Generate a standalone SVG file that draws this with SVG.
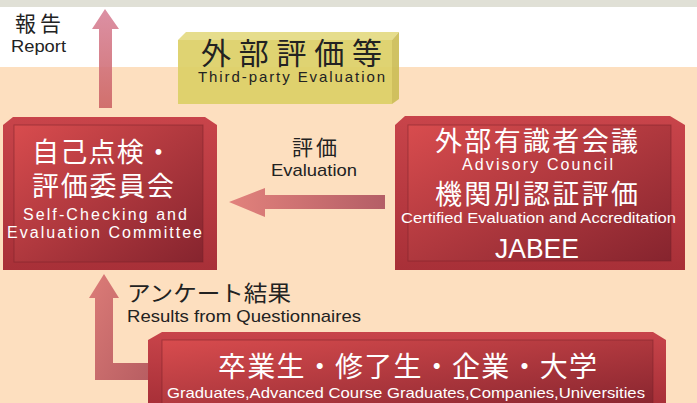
<svg xmlns="http://www.w3.org/2000/svg" width="697" height="403" viewBox="0 0 697 403">
<defs>
<linearGradient id="red" x1="0" y1="0" x2="1" y2="1">
<stop offset="0" stop-color="#d84c4e"/>
<stop offset="1" stop-color="#86242e"/>
</linearGradient>
<linearGradient id="redside" x1="0" y1="0" x2="0" y2="1">
<stop offset="0" stop-color="#c8444a"/>
<stop offset="1" stop-color="#a83038"/>
</linearGradient>
<linearGradient id="arrUp" x1="0" y1="0" x2="0" y2="1">
<stop offset="0" stop-color="#d8849a"/>
<stop offset="1" stop-color="#cc6464"/>
</linearGradient>
<linearGradient id="arrLeft" x1="0" y1="0" x2="1" y2="0">
<stop offset="0" stop-color="#e2827c"/>
<stop offset="1" stop-color="#b45e66"/>
</linearGradient>
<linearGradient id="arrL" x1="0" y1="0" x2="1" y2="1">
<stop offset="0" stop-color="#dc7c78"/>
<stop offset="1" stop-color="#b85e62"/>
</linearGradient>
<style>
.jp{font-family:"Noto Sans CJK JP","Noto Sans",sans-serif;}
.en{font-family:"Liberation Sans",Arial,sans-serif;}
.w{fill:#ffffff;}
.k{fill:#222222;}
.edge{fill:none;stroke:#7a2028;stroke-width:1;stroke-opacity:0.5;}
</style>
</defs>
<rect x="0" y="0" width="697" height="403" fill="#ffffff"/>
<rect x="0" y="0" width="697" height="7" fill="#e0e0d6"/>
<rect x="0" y="67" width="697" height="336" fill="#fddfbf"/>

<g id="connectors">
<path d="M99,108 V29 H92 L105,9 L119,29 H112 V108 Z" fill="url(#arrUp)" opacity="0.9"/>
<path d="M385,195 H265 V188 L229,202 L265,217 V209 H385 Z" fill="url(#arrLeft)"/>
<path d="M148,363 V380 H95 V298 H89 L104,274 L119,298 H113 V363 Z" fill="url(#arrL)"/>
</g>

<g id="labels">
<text class="jp k" x="15" y="31" font-size="21" textLength="46" lengthAdjust="spacing">報告</text>
<text class="en k" x="11" y="52" font-size="17" textLength="55" lengthAdjust="spacingAndGlyphs">Report</text>
<text class="jp k" x="292" y="155" font-size="21" textLength="45" lengthAdjust="spacing">評価</text>
<text class="en k" x="271" y="176" font-size="17" textLength="86" lengthAdjust="spacingAndGlyphs">Evaluation</text>
<text class="jp k" x="127" y="301" font-size="22" textLength="164" lengthAdjust="spacingAndGlyphs">アンケート結果</text>
<text class="en k" x="127" y="322" font-size="17" textLength="234" lengthAdjust="spacingAndGlyphs">Results from Questionnaires</text>
</g>

<g id="third-party">
<polygon points="178,40 186,32 399,32 392,40" fill="#e4da82" opacity="0.92"/>
<polygon points="392,40 399,32 399,99 392,104" fill="#ccbd56" opacity="0.92"/>
<rect x="178" y="40" width="214" height="64" fill="#dccf66" opacity="0.92"/>
<text class="jp k" x="201" y="64" font-size="30" textLength="181" lengthAdjust="spacing">外部評価等</text>
<text class="en k" x="198" y="82" font-size="15" textLength="187" lengthAdjust="spacing">Third-party Evaluation</text>
</g>

<g id="self-check">
<polygon points="3,125 13,117 205,117 217,125 217,270 3,270" fill="url(#redside)"/>
<rect x="14" y="125" width="189" height="137" fill="url(#red)"/>
<rect x="14" y="125" width="189" height="137" class="edge"/>
<text class="jp w" x="32" y="162" font-size="27" textLength="140" lengthAdjust="spacing">自己点検・</text>
<text class="jp w" x="32" y="196" font-size="27" textLength="142" lengthAdjust="spacing">評価委員会</text>
<text class="en w" x="23" y="220" font-size="16" textLength="164" lengthAdjust="spacing">Self-Checking and</text>
<text class="en w" x="7" y="238" font-size="16" textLength="195" lengthAdjust="spacing">Evaluation Committee</text>
</g>

<g id="external">
<polygon points="395,125 405,116 670,116 685,125 685,270 395,270" fill="url(#redside)"/>
<rect x="408" y="125" width="263" height="136" fill="url(#red)"/>
<rect x="408" y="125" width="263" height="136" class="edge"/>
<text class="jp w" x="435" y="151" font-size="27" textLength="203" lengthAdjust="spacing">外部有識者会議</text>
<text class="en w" x="462" y="170" font-size="16" textLength="151" lengthAdjust="spacing">Advisory Council</text>
<text class="jp w" x="435" y="204" font-size="27" textLength="203" lengthAdjust="spacing">機関別認証評価</text>
<text class="en w" x="401" y="223" font-size="15" textLength="275" lengthAdjust="spacingAndGlyphs">Certified Evaluation and Accreditation</text>
<text class="en w" x="495" y="258" font-size="27" textLength="84" lengthAdjust="spacingAndGlyphs">JABEE</text>
</g>

<g id="stakeholders">
<polygon points="148,340 162,332 653,332 666,340 666,403 148,403" fill="url(#redside)"/>
<rect x="162" y="340" width="491" height="70" fill="url(#red)"/>
<rect x="162" y="340" width="491" height="70" class="edge"/>
<text class="jp w" x="218" y="377" font-size="28" textLength="379" lengthAdjust="spacing">卒業生・修了生・企業・大学</text>
<text class="en w" x="167" y="398" font-size="15" textLength="478" lengthAdjust="spacingAndGlyphs">Graduates,Advanced Course Graduates,Companies,Universities</text>
</g>
</svg>
